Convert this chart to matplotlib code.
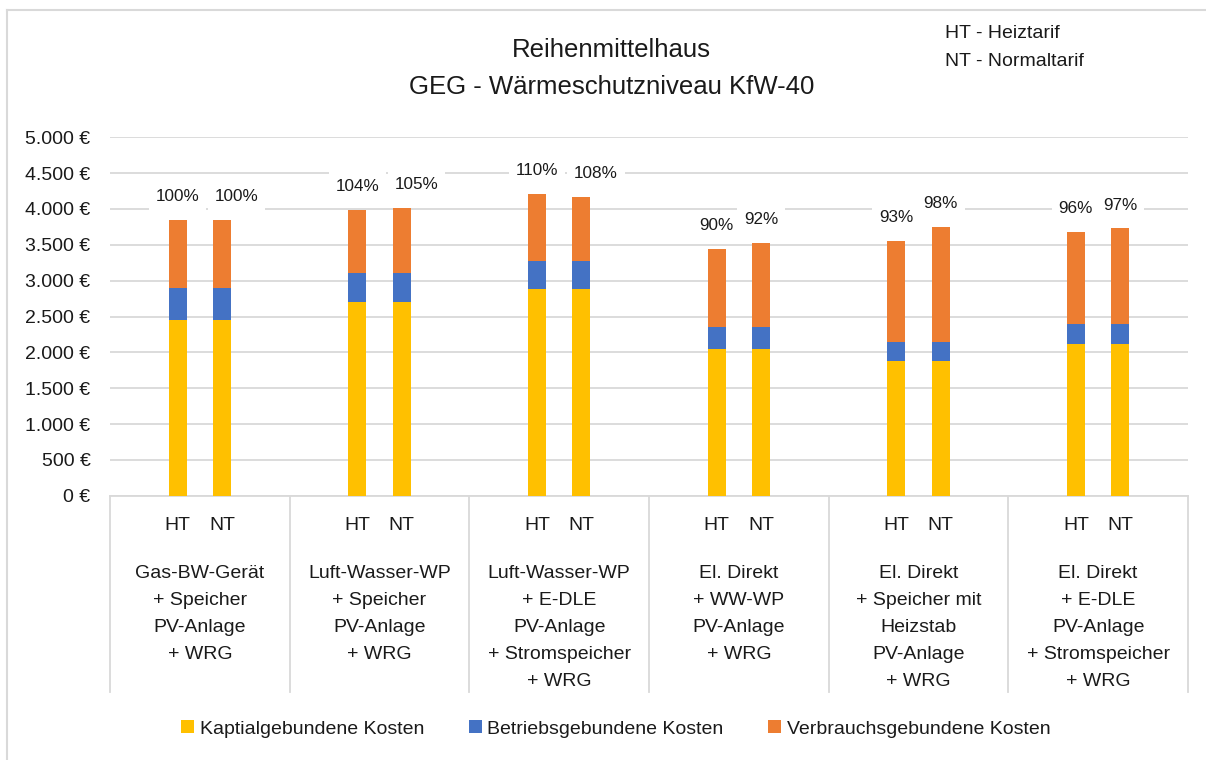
import matplotlib
matplotlib.use("Agg")
import matplotlib.pyplot as plt
from matplotlib.patches import Patch
from matplotlib.lines import Line2D

plt.rcParams['font.family'] = ['Liberation Sans', 'DejaVu Sans']

# ---------------- data ----------------
categories = [
    "Gas-BW-Gerät\n+ Speicher\nPV-Anlage\n+ WRG",
    "Luft-Wasser-WP\n+ Speicher\nPV-Anlage\n+ WRG",
    "Luft-Wasser-WP\n+ E-DLE\nPV-Anlage\n+ Stromspeicher\n+ WRG",
    "El. Direkt\n+ WW-WP\nPV-Anlage\n+ WRG",
    "El. Direkt\n+ Speicher mit\nHeizstab\nPV-Anlage\n+ WRG",
    "El. Direkt\n+ E-DLE\nPV-Anlage\n+ Stromspeicher\n+ WRG",
]
tariffs = ["HT", "NT"]
series_names = ["Kaptialgebundene Kosten", "Betriebsgebundene Kosten",
                "Verbrauchsgebundene Kosten"]

kapital_ht = [2447, 2706, 2883, 2047, 1875, 2120]
kapital_nt = [2447, 2706, 2883, 2047, 1875, 2120]
betrieb_ht = [446, 405, 395, 311, 273, 279]
betrieb_nt = [446, 405, 395, 311, 273, 279]
verbrauch_ht = [953, 874, 930, 1090, 1409, 1284]
verbrauch_nt = [953, 907, 889, 1167, 1596, 1331]

pct_ht = ["100%", "104%", "110%", "90%", "93%", "96%"]
pct_nt = ["100%", "105%", "108%", "92%", "98%", "97%"]

yticks = [0, 500, 1000, 1500, 2000, 2500, 3000, 3500, 4000, 4500, 5000]
ytick_labels = ["0 €", "500 €", "1.000 €", "1.500 €", "2.000 €", "2.500 €",
                "3.000 €", "3.500 €", "4.000 €", "4.500 €", "5.000 €"]

title_lines = ["Reihenmittelhaus", "GEG - Wärmeschutzniveau KfW-40"]
note_lines = ["HT - Heiztarif", "NT - Normaltarif"]

colors = ["#FFC000", "#4472C4", "#ED7D31"]
grid_c = "#D9D9D9"
txt_c = "#1a1a1a"

# ---------------- figure ----------------
W, H = 1206, 760
fig = plt.figure(figsize=(W / 100, H / 100), dpi=100)
ax_l, ax_r, ax_t, ax_b = 110, 1188, 137.3, 495.7
ax = fig.add_axes([ax_l / W, 1 - ax_b / H, (ax_r - ax_l) / W, (ax_b - ax_t) / H])
ax_h_px = ax_b - ax_t

offset = 0.124
bw = 0.1
n = len(categories)
for j, (kap, bet, ver, pcts) in enumerate([
        (kapital_ht, betrieb_ht, verbrauch_ht, pct_ht),
        (kapital_nt, betrieb_nt, verbrauch_nt, pct_nt)]):
    xs = [i + 0.5 + (-offset if j == 0 else offset) for i in range(n)]
    ax.bar(xs, kap, width=bw, color=colors[0], zorder=3)
    ax.bar(xs, bet, width=bw, bottom=kap, color=colors[1], zorder=3)
    bottoms = [a + b for a, b in zip(kap, bet)]
    ax.bar(xs, ver, width=bw, bottom=bottoms, color=colors[2], zorder=3)
    for x, b, v, p in zip(xs, bottoms, ver, pcts):
        # wide labels of the right bar are nudged right to avoid overlap
        dx = 10.5 if (j == 1 and len(p) > 3) else 0
        ax.annotate(p, (x, b + v), xytext=(dx, 16.8), textcoords="offset points",
                    ha="center", va="center", fontsize=12.3, color="white",
                    bbox=dict(boxstyle="square,pad=0.4", fc="white", ec="none"),
                    zorder=2.5)
        ax.annotate(p, (x, b + v), xytext=(dx, 16.8), textcoords="offset points",
                    ha="center", va="center", fontsize=12.3, color=txt_c, zorder=5)
    for x, t in zip(xs, [tariffs[j]] * n):
        ax.text(x, -(525 - ax_b) / ax_h_px, t, transform=ax.get_xaxis_transform(),
                ha="center", va="center", fontsize=14, color=txt_c)

for i, c in enumerate(categories):
    ax.text(i + 0.5, -(565 - ax_b) / ax_h_px, c, transform=ax.get_xaxis_transform(),
            ha="center", va="top", fontsize=14, color=txt_c, linespacing=1.77)

# separators
for i in range(n + 1):
    ax.add_line(Line2D([i, i], [0, -(692 - ax_b) / ax_h_px],
                       transform=ax.get_xaxis_transform(), color=grid_c, lw=1.3,
                       clip_on=False))

ax.set_xlim(0, n)
ax.set_ylim(0, 5000)
ax.set_yticks(yticks)
ax.set_yticklabels(ytick_labels, fontsize=14, color=txt_c)
ax.set_xticks([])
ax.tick_params(axis="y", length=0, pad=14)
ax.yaxis.grid(True, color=grid_c, lw=1.3, zorder=0)
ax.set_axisbelow(True)
for s in ["left", "top", "right"]:
    ax.spines[s].set_visible(False)
ax.spines["bottom"].set_color(grid_c)
ax.spines["bottom"].set_linewidth(1.3)

# titles
fig.text(611.5 / W, 1 - 50 / H, title_lines[0], ha="center", va="center",
         fontsize=18.5, color=txt_c)
fig.text(611.5 / W, 1 - 87 / H, title_lines[1], ha="center", va="center",
         fontsize=18.5, color=txt_c)
fig.text(945 / W, 1 - 33 / H, note_lines[0], ha="left", va="center",
         fontsize=14, color=txt_c)
fig.text(945 / W, 1 - 61 / H, note_lines[1], ha="left", va="center",
         fontsize=14, color=txt_c)

# legend
handles = [Patch(facecolor=c, edgecolor="none") for c in colors]
fig.legend(handles, series_names, loc="center", ncol=3,
           bbox_to_anchor=(616 / W, 1 - 729 / H), frameon=False, fontsize=14,
           handlelength=0.65, handleheight=0.65, handletextpad=0.3,
           columnspacing=2.3, labelcolor=txt_c)

# outer frame (left and top edges visible)
fig.add_artist(Line2D([7 / W, 7 / W], [0, 1 - 10 / H], transform=fig.transFigure,
                      color=grid_c, lw=1.5))
fig.add_artist(Line2D([7 / W, 1], [1 - 10 / H, 1 - 10 / H], transform=fig.transFigure,
                      color=grid_c, lw=1.5))

fig.savefig("out.png", dpi=100, facecolor="white")
